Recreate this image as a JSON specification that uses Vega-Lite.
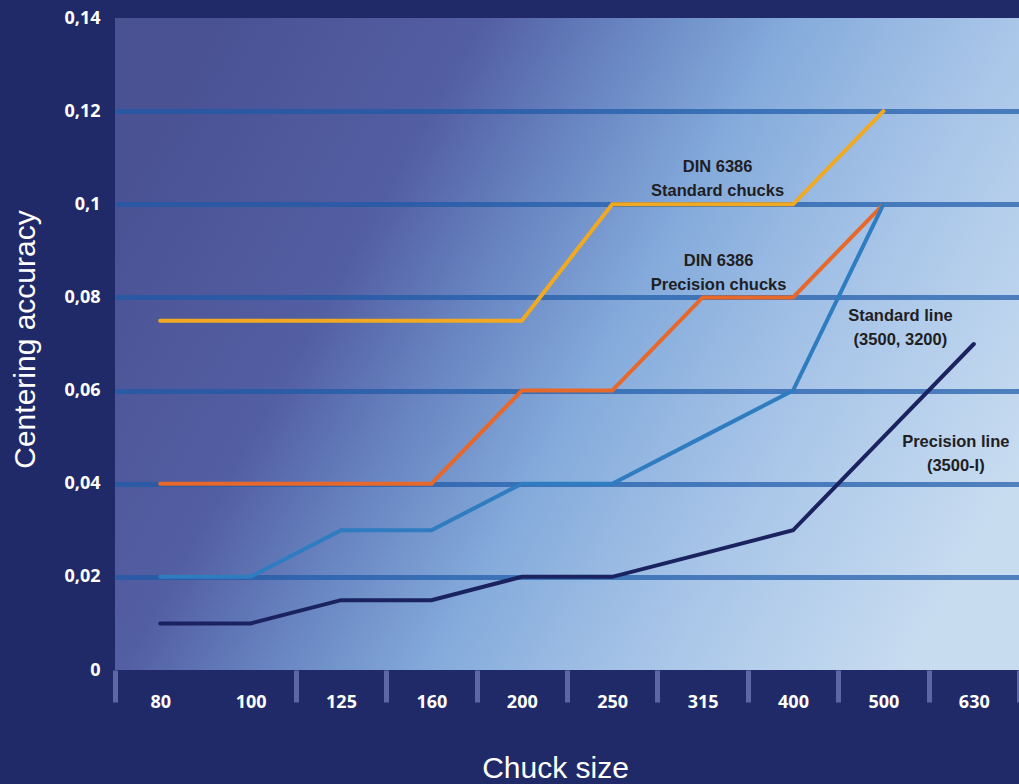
{
  "$schema": "https://vega.github.io/schema/vega-lite/v6.json",
  "width": 904,
  "height": 652,
  "autosize": {"type": "none"},
  "padding": {"left": 115, "top": 18, "right": 0, "bottom": 114},
  "background": "#202a68",
  "datasets": {
    "series": [
      {"size": "80", "series": "DIN 6386 Standard chucks", "value": 0.075},
      {"size": "100", "series": "DIN 6386 Standard chucks", "value": 0.075},
      {"size": "125", "series": "DIN 6386 Standard chucks", "value": 0.075},
      {"size": "160", "series": "DIN 6386 Standard chucks", "value": 0.075},
      {"size": "200", "series": "DIN 6386 Standard chucks", "value": 0.075},
      {"size": "250", "series": "DIN 6386 Standard chucks", "value": 0.1},
      {"size": "315", "series": "DIN 6386 Standard chucks", "value": 0.1},
      {"size": "400", "series": "DIN 6386 Standard chucks", "value": 0.1},
      {"size": "500", "series": "DIN 6386 Standard chucks", "value": 0.12},
      {"size": "80", "series": "DIN 6386 Precision chucks", "value": 0.04},
      {"size": "100", "series": "DIN 6386 Precision chucks", "value": 0.04},
      {"size": "125", "series": "DIN 6386 Precision chucks", "value": 0.04},
      {"size": "160", "series": "DIN 6386 Precision chucks", "value": 0.04},
      {"size": "200", "series": "DIN 6386 Precision chucks", "value": 0.06},
      {"size": "250", "series": "DIN 6386 Precision chucks", "value": 0.06},
      {"size": "315", "series": "DIN 6386 Precision chucks", "value": 0.08},
      {"size": "400", "series": "DIN 6386 Precision chucks", "value": 0.08},
      {"size": "500", "series": "DIN 6386 Precision chucks", "value": 0.1},
      {"size": "80", "series": "Standard line (3500, 3200)", "value": 0.02},
      {"size": "100", "series": "Standard line (3500, 3200)", "value": 0.02},
      {"size": "125", "series": "Standard line (3500, 3200)", "value": 0.03},
      {"size": "160", "series": "Standard line (3500, 3200)", "value": 0.03},
      {"size": "200", "series": "Standard line (3500, 3200)", "value": 0.04},
      {"size": "250", "series": "Standard line (3500, 3200)", "value": 0.04},
      {"size": "315", "series": "Standard line (3500, 3200)", "value": 0.05},
      {"size": "400", "series": "Standard line (3500, 3200)", "value": 0.06},
      {"size": "500", "series": "Standard line (3500, 3200)", "value": 0.1},
      {"size": "80", "series": "Precision line (3500-I)", "value": 0.01},
      {"size": "100", "series": "Precision line (3500-I)", "value": 0.01},
      {"size": "125", "series": "Precision line (3500-I)", "value": 0.015},
      {"size": "160", "series": "Precision line (3500-I)", "value": 0.015},
      {"size": "200", "series": "Precision line (3500-I)", "value": 0.02},
      {"size": "250", "series": "Precision line (3500-I)", "value": 0.02},
      {"size": "315", "series": "Precision line (3500-I)", "value": 0.025},
      {"size": "400", "series": "Precision line (3500-I)", "value": 0.03},
      {"size": "500", "series": "Precision line (3500-I)", "value": 0.05},
      {"size": "630", "series": "Precision line (3500-I)", "value": 0.07}
    ],
    "labels": [
      {"id": "a", "size": "315", "value": 0.108, "text": ["DIN 6386", "Standard chucks"]},
      {"id": "b", "size": "315", "value": 0.0878, "text": ["DIN 6386", "Precision chucks"]},
      {"id": "c", "size": "500", "value": 0.076, "text": ["Standard line", "(3500, 3200)"]},
      {"id": "d", "size": "630", "value": 0.049, "text": ["Precision line", "(3500-I)"]}
    ]
  },
  "encoding": {
    "x": {
      "field": "size",
      "type": "ordinal",
      "sort": ["80", "100", "125", "160", "200", "250", "315", "400", "500", "630"],
      "scale": {"type": "band", "domain": ["80", "100", "125", "160", "200", "250", "315", "400", "500", "630"], "paddingInner": 0, "paddingOuter": 0},
      "axis": {
        "title": "Chuck size",
        "labelAngle": 0,
        "labelFont": "Open Sans",
        "labelFontWeight": "bold",
        "labelFontSize": 18,
        "labelColor": "#ffffff",
        "labelBaseline": "middle",
        "labelPadding": 0,
        "tickBand": "extent",
        "ticks": true,
        "tickSize": 32,
        "tickWidth": 5,
        "tickColor": "#5b67a6",
        "tickOpacity": {"condition": {"test": "datum.index == 0", "value": 0}, "value": 1},
        "domain": false,
        "grid": false,
        "titleFont": "Liberation Sans",
        "titleFontSize": 30,
        "titleFontWeight": "normal",
        "titleColor": "#ffffff",
        "titleX": 440,
        "titleY": 98,
        "titleBaseline": "middle",
        "titleAlign": "center"
      }
    },
    "y": {
      "field": "value",
      "type": "quantitative",
      "scale": {"domain": [0, 0.14], "nice": false, "zero": true},
      "axis": {
        "title": "Centering accuracy",
        "values": [0, 0.02, 0.04, 0.06, 0.08, 0.1, 0.12, 0.14],
        "labelExpr": "replace(format(datum.value, '~g'), '.', ',')",
        "labelFont": "Open Sans",
        "labelFontWeight": "bold",
        "labelFontSize": 18,
        "labelColor": "#ffffff",
        "labelPadding": 15,
        "ticks": false,
        "domain": false,
        "grid": true,
        "gridColor": "#1d5aa8",
        "gridOpacity": {"condition": {"test": "datum.value == 0 || datum.value == 0.14", "value": 0}, "value": 0.7},
        "gridWidth": 5,
        "titleFont": "Liberation Sans",
        "titleFontSize": 30,
        "titleFontWeight": "normal",
        "titleColor": "#ffffff",
        "titleAngle": -90,
        "titleX": -90,
        "titleY": 321,
        "titleAlign": "center",
        "titleBaseline": "middle"
      }
    }
  },
  "layer": [
    {
      "data": {"name": "series"},
      "mark": {"type": "line", "strokeWidth": 4, "strokeCap": "round", "strokeJoin": "miter"},
      "encoding": {
        "color": {
          "field": "series",
          "type": "nominal",
          "scale": {
            "domain": ["DIN 6386 Standard chucks", "DIN 6386 Precision chucks", "Standard line (3500, 3200)", "Precision line (3500-I)"],
            "range": ["#f0a920", "#e8682a", "#2f7cc0", "#1b2260"]
          },
          "legend": null
        }
      }
    },
    {
      "data": {"name": "labels"},
      "transform": [{"filter": "datum.id == 'a'"}],
      "mark": {"type": "text", "dx": 15, "font": "Liberation Sans", "fontWeight": "bold", "fontSize": 16.5, "color": "#1e1e24", "lineHeight": 24, "align": "center", "baseline": "middle"},
      "encoding": {"text": {"field": "text"}}
    },
    {
      "data": {"name": "labels"},
      "transform": [{"filter": "datum.id == 'b'"}],
      "mark": {"type": "text", "dx": 16, "font": "Liberation Sans", "fontWeight": "bold", "fontSize": 16.5, "color": "#1e1e24", "lineHeight": 24, "align": "center", "baseline": "middle"},
      "encoding": {"text": {"field": "text"}}
    },
    {
      "data": {"name": "labels"},
      "transform": [{"filter": "datum.id == 'c'"}],
      "mark": {"type": "text", "dx": 17, "font": "Liberation Sans", "fontWeight": "bold", "fontSize": 16.5, "color": "#1e1e24", "lineHeight": 24, "align": "center", "baseline": "middle"},
      "encoding": {"text": {"field": "text"}}
    },
    {
      "data": {"name": "labels"},
      "transform": [{"filter": "datum.id == 'd'"}],
      "mark": {"type": "text", "dx": -18, "font": "Liberation Sans", "fontWeight": "bold", "fontSize": 16.5, "color": "#1e1e24", "lineHeight": 24, "align": "center", "baseline": "middle"},
      "encoding": {"text": {"field": "text"}}
    }
  ],
  "config": {
    "view": {
      "stroke": null,
      "fill": {
        "gradient": "linear",
        "x1": 0, "y1": 0.3, "x2": 1, "y2": 0.7,
        "stops": [
          {"offset": 0, "color": "#4a5294"},
          {"offset": 0.25, "color": "#535fa3"},
          {"offset": 0.4, "color": "#6a88c4"},
          {"offset": 0.55, "color": "#86acdc"},
          {"offset": 0.75, "color": "#a8c5e8"},
          {"offset": 1, "color": "#c8dcf0"}
        ]
      }
    }
  }
}
